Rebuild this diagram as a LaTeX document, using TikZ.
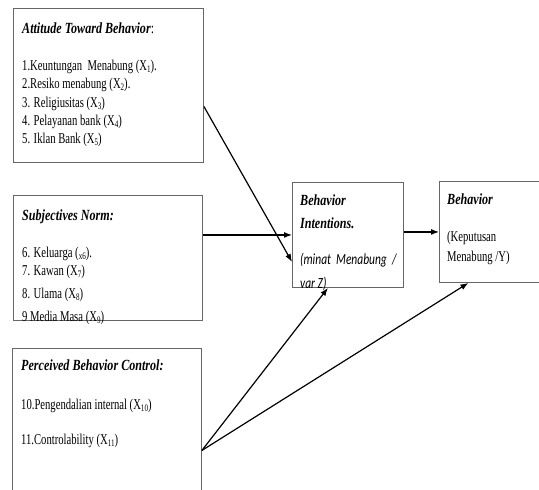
\documentclass[tikz,border=0pt]{standalone}
\usepackage{fontspec}
\setmainfont{Liberation Serif}[FakeStretch=0.71]
\newfontfamily\ttlfont{Liberation Serif}[FakeStretch=0.78]
\newfontfamily\calfont{Carlito}[FakeStretch=0.74]
\usetikzlibrary{arrows.meta}
\newcommand\subx[1]{\raisebox{-0.3ex}{\fontsize{10}{10}\selectfont #1}}
\tikzset{
  boxn/.style={draw=black!60, line width=0.9pt, rectangle, inner sep=0pt, anchor=north west},
  arr/.style={draw=black, line width=1.2pt, -{Latex[length=8pt,width=6pt]}},
  txt/.style={anchor=base west, inner sep=0pt, font=\fontsize{15}{17}\selectfont},
  ttl/.style={anchor=base west, inner sep=0pt, font=\fontsize{15.5}{18}\selectfont\ttlfont\bfseries\itshape},
  cal/.style={anchor=base west, inner sep=0pt, font=\fontsize{15.5}{17}\selectfont\calfont\itshape},
}
\begin{document}
\begin{tikzpicture}[x=1pt,y=-1pt]
\useasboundingbox (0,0) rectangle (539,490);
\clip (0,0) rectangle (539,490);
% boxes
\node[boxn, minimum width=190pt, minimum height=154pt] (att) at (13,8) {};
\node[boxn, minimum width=189pt, minimum height=125pt] (sn) at (13,195) {};
\node[boxn, minimum width=189pt, minimum height=160pt] (pbc) at (12,348) {};
\node[boxn, minimum width=111pt, minimum height=105pt] (bi) at (292,182) {};
\node[boxn, minimum width=110pt, minimum height=101pt] (beh) at (439,181) {};
% box 1 text
\node[ttl] (t1) at (22,33) {Attitude Toward Behavior\textmd{\textup{:}}};
\node[txt] (t1a) at (22,70) {1.Keuntungan\ \ Menabung (X\subx{1}).};
\node[txt] (t1b) at (22,88) {2.Resiko menabung (X\subx{2}).};
\node[txt] (t1c) at (22,107) {3. Religiusitas (X\subx{3})};
\node[txt] (t1d) at (22,125) {4. Pelayanan bank (X\subx{4})};
\node[txt] (t1e) at (22,143) {5. Iklan Bank (X\subx{5})};
% box 2 text
\begin{scope}
\clip ([shift={(1pt,1pt)}]sn.north west) rectangle ([shift={(-1pt,-3pt)}]sn.south east);
\node[ttl] (t2) at (22,220) {Subjectives Norm:};
\node[txt] (t2a) at (22,257) {6. Keluarga (\subx{x6}).};
\node[txt] (t2b) at (22,275) {7. Kawan (X\subx{7})};
\node[txt] (t2c) at (22,298) {8. Ulama (X\subx{8})};
\node[txt] (t2d) at (22,321) {9 Media Masa (X\subx{9})};
\end{scope}
% box 3 text
\node[ttl] (t3) at (21,370) {Perceived Behavior Control:};
\node[txt] (t3a) at (21,409) {10.Pengendalian internal (X\subx{10})};
\node[txt] (t3b) at (21,444) {11.Controlability (X\subx{11})};
% box 4 text
\begin{scope}
\clip ([shift={(1pt,1pt)}]bi.north west) rectangle ([shift={(-1pt,-3pt)}]bi.south east);
\node[ttl] (t4) at (300,205) {Behavior};
\node[ttl] (t4b) at (300,228) {Intentions.};
\node[cal] (t4c) at (300,264) {(minat\ \ Menabung\ \ /};
\node[cal] (t4d) at (300,288.5) {var Z)};
\end{scope}
% box 5 text
\node[ttl] (t5) at (447,204) {Behavior};
\node[txt] (t5a) at (447,241) {(Keputusan};
\node[txt] (t5b) at (447,261) {Menabung /Y)};
% connectors
\coordinate (pc) at ([yshift=-22pt]pbc.east);
\draw[arr] ([yshift=-21pt]att.east) -- ([yshift=-27pt]bi.west);
\draw[arr] (sn.east |- bi.west) -- (bi.west);
\draw[arr] (pc) -- ([xshift=-20pt]bi.south);
\draw[arr] (pc) -- ([xshift=-26pt]beh.south);
\draw[arr] (bi.east |- beh.west) -- (beh.west);
\end{tikzpicture}
\end{document}
